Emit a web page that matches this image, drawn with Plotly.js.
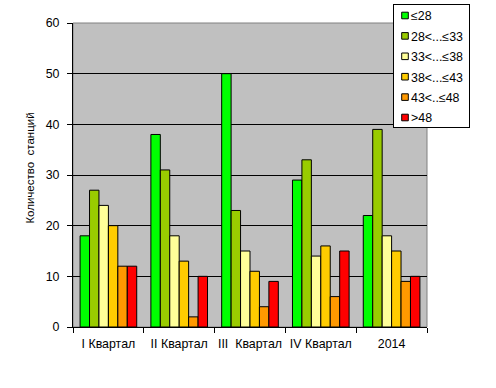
<!DOCTYPE html>
<html><head><meta charset="utf-8">
<script src="https://cdn.plot.ly/plotly-3.0.1.min.js"></script>
<style>body{margin:0;background:#fff}#c{width:496px;height:388px}</style>
</head><body><div id="c"></div>
<script>
const categories = ["I Квартал", "II Квартал", "III  Квартал", "IV Квартал", "2014"];
const seriesNames = ["≤28", "28<...≤33", "33<...≤38", "38<...≤43", "43<..≤48", ">48"];
const s1 = [18, 38, 50, 29, 22];
const s2 = [27, 31, 23, 33, 39];
const s3 = [24, 18, 15, 14, 18];
const s4 = [20, 13, 11, 16, 15];
const s5 = [12, 2, 4, 6, 9];
const s6 = [12, 10, 9, 15, 10];
const colors = ["#00FF00", "#99CC00", "#FFFF99", "#FFCC00", "#FF9900", "#FF0000"];
const seriesValues = [s1, s2, s3, s4, s5, s6];

const traces = seriesValues.map((v, i) => ({
  type: "bar", x: categories, y: v, name: seriesNames[i],
  marker: {color: colors[i], line: {color: "#000", width: 1}}
}));

const layout = {
  width: 496, height: 388,
  margin: {l: 73, r: 69, t: 23, b: 61, autoexpand: false},
  paper_bgcolor: "#fff", plot_bgcolor: "#C0C0C0",
  font: {family: "Liberation Sans, Arial, sans-serif", size: 12.4, color: "#000"},
  barmode: "group", bargap: 0.2, bargroupgap: 0,
  showlegend: true,
  legend: {x: 393/496, y: 1 - 4/388, xref: "container", yref: "container", xanchor: "left", yanchor: "top",
    bordercolor: "#000", borderwidth: 1, bgcolor: "#fff", tracegroupgap: 0,
    font: {size: 12.4}, itemwidth: 30},
  xaxis: {type: "category", tickson: "boundaries", ticks: "outside", ticklen: 5, tickcolor: "#000",
    ticklabelstandoff: 5,
    tickangle: 0, showline: true, linecolor: "#000", linewidth: 1, showgrid: false, tickfont: {size: 12.4}},
  yaxis: {range: [0, 60], dtick: 10, ticks: "outside", ticklen: 5, tickcolor: "#000",
    ticklabelstandoff: 5,
    showline: true, linecolor: "#000", linewidth: 1, showgrid: true, gridcolor: "#000", gridwidth: 1,
    zeroline: false, tickfont: {size: 12.4},
    title: {text: "Количество  станций", font: {size: 11.5}, standoff: 8}},
  shapes: [{type: "rect", xref: "paper", yref: "paper", x0: 0, x1: 1, y0: 0, y1: 1,
    line: {color: "#808080", width: 1}, layer: "below"}]
};
Plotly.newPlot("c", traces, layout, {displayModeBar: false, staticPlot: true}).then(() => {
  // compact legend layout (Excel-style small swatches and row spacing)
  const lg = document.querySelector(".legend");
  if (lg) {
    lg.querySelectorAll(".legendpoints path").forEach(p => {
      p.setAttribute("transform", "translate(11,0) scale(0.55)");
      p.style.strokeWidth = "1.8px";
    });
    lg.querySelectorAll("text.legendtext").forEach(t => t.setAttribute("x", "17"));
    const rows = lg.querySelectorAll("g.traces");
    rows.forEach((g, i) => g.setAttribute("transform", "translate(1," + (11.5 + i * 20.4) + ")"));
    const bg = lg.querySelector("rect.bg");
    if (bg) { bg.setAttribute("width", "76"); bg.setAttribute("height", "123"); }
  }
  const yt = document.querySelector(".g-ytitle");
  if (yt) yt.setAttribute("transform", "translate(0,-7)");
});
</script></body></html>
